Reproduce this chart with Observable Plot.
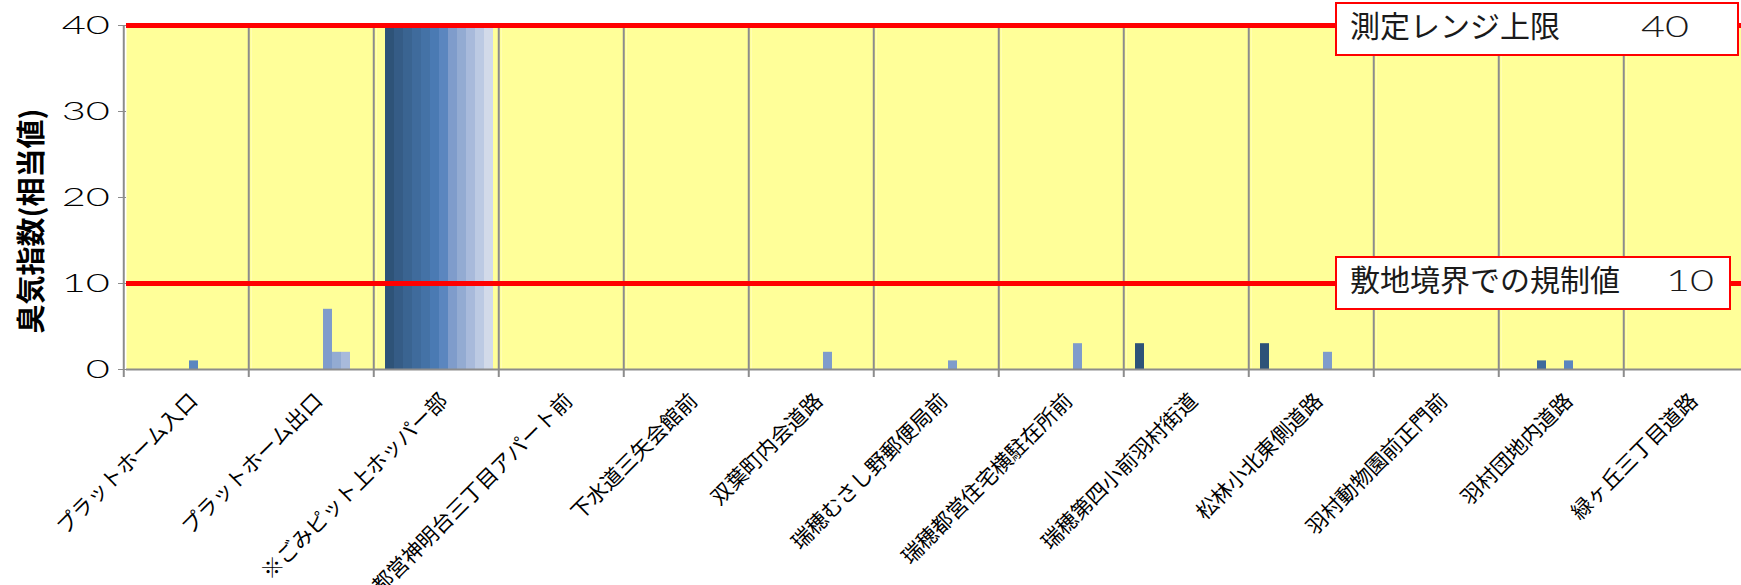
<!DOCTYPE html>
<html>
<head>
<meta charset="utf-8">
<script src="https://cdn.jsdelivr.net/npm/d3@7"></script>
<script src="https://cdn.jsdelivr.net/npm/@observablehq/plot@0.6"></script>
<style>
  html, body { margin: 0; padding: 0; background: #ffffff; overflow: hidden; }
  #chart svg { display: block; max-width: none !important; height: 585px !important; }
</style>
</head>
<body>
<div id="chart"></div>
<script>
// ---- data ----
const categories = [
  "プラットホーム入口", "プラットホーム出口", "※ごみピット上ホッパー部",
  "都営神明台三丁目アパート前", "下水道三矢会館前", "双葉町内会道路",
  "瑞穂むさし野郵便局前", "瑞穂都営住宅横駐在所前", "瑞穂第四小前羽村街道",
  "松林小北東側道路", "羽村動物園前正門前", "羽村団地内道路", "緑ヶ丘三丁目道路"
];
const seriesNames = ["4月", "5月", "6月", "7月", "8月", "9月", "10月", "11月", "12月", "1月", "2月", "3月"];
// values per series (one value per category, in category order)
const s1  = [0, 0, 40, 0, 0, 0, 0, 0, 3, 3, 0, 0, 0];
const s2  = [0, 0, 40, 0, 0, 0, 0, 0, 0, 0, 0, 0, 0];
const s3  = [0, 0, 40, 0, 0, 0, 0, 0, 0, 0, 0, 0, 0];
const s4  = [0, 0, 40, 0, 0, 0, 0, 0, 0, 0, 0, 1, 0];
const s5  = [0, 0, 40, 0, 0, 0, 0, 0, 0, 0, 0, 0, 0];
const s6  = [0, 0, 40, 0, 0, 0, 0, 0, 0, 0, 0, 0, 0];
const s7  = [1, 0, 40, 0, 0, 0, 0, 0, 0, 0, 0, 1, 0];
const s8  = [0, 7, 40, 0, 0, 2, 1, 3, 0, 2, 0, 0, 0];
const s9  = [0, 2, 40, 0, 0, 0, 0, 0, 0, 0, 0, 0, 0];
const s10 = [0, 2, 40, 0, 0, 0, 0, 0, 0, 0, 0, 0, 0];
const s11 = [0, 0, 40, 0, 0, 0, 0, 0, 0, 0, 0, 0, 0];
const s12 = [0, 0, 40, 0, 0, 0, 0, 0, 0, 0, 0, 0, 0];
const seriesValues = [s1, s2, s3, s4, s5, s6, s7, s8, s9, s10, s11, s12];
const yTicks = [0, 10, 20, 30, 40];
const limits = [10, 40];
const limitNames = ["敷地境界での規制値", "測定レンジ上限"];
const yTitle = "臭気指数(相当値)";

// ---- styles ----
const palette = ["#2e5378", "#355c86", "#3a6491", "#3f6b9c", "#4472a6", "#4a7ab3",
                 "#5b86bf", "#7f9ccb", "#93abd2", "#a8badb", "#bccae3", "#d2dae9"];
const gridColor = "#8c8c8c";
const FONT = "'Noto Sans CJK JP', 'Noto Sans', sans-serif";
const NUMFONT = "Lato, 'Noto Sans', sans-serif";

const rows = [];
seriesValues.forEach((vals, si) => {
  vals.forEach((v, ci) => {
    if (v > 0) rows.push({category: categories[ci], series: seriesNames[si], value: v});
  });
});

const W = 1753, H = 585, ML = 124, MR = 1, MT = 25, MB = 216;
const TICK = 8, TICKPAD = 10;
const padOuter = 0.75;
const facetStep = (W - ML - MR) / categories.length;
const innerStep = facetStep / (seriesNames.length + 2 * padOuter);
const gridOffset = innerStep * (1 + padOuter);

const chart = Plot.plot({
  width: W, height: H,
  marginLeft: ML, marginRight: MR, marginTop: MT, marginBottom: MB,
  style: {fontFamily: FONT, background: "#ffffff", color: "#000000", overflow: "visible"},
  fx: {domain: categories, padding: 0, label: null},
  x: {domain: seriesNames, paddingInner: 0, paddingOuter: padOuter, axis: null},
  y: {domain: [0, 40], label: null},
  color: {domain: seriesNames, range: palette},
  marks: [
    Plot.frame({fill: "#ffff99", stroke: null}),
    Plot.barY(rows, {fx: "category", x: "series", y: "value", fill: "series"}),
    Plot.ruleX(categories, {fx: d => d, x: () => seriesNames[0], y1: 40, y2: 0,
      dx: -gridOffset, insetBottom: -8, stroke: gridColor, strokeWidth: 2}),
    Plot.ruleY([0], {stroke: gridColor, strokeWidth: 2}),
    Plot.ruleY(limits, {y: d => d, stroke: "#ff0000", strokeWidth: 5}),
    Plot.axisY({ticks: yTicks, tickSize: TICK, tickPadding: TICKPAD, fontSize: 26,
      fontFamily: NUMFONT, fontWeight: 300, stroke: gridColor, label: null}),
    Plot.axisFx({anchor: "bottom", tickSize: 0, tickPadding: 28, dx: 5, tickRotate: -45,
      fontSize: 21, label: null})
  ]
});

document.getElementById("chart").appendChild(chart);

const svg = d3.select(chart);
// widen the y tick digits like the reference's wide numerals:
// stretch the tick-label group horizontally about its right-aligned anchor line
const labelRight = ML - TICK - TICKPAD;
svg.selectAll("g[aria-label='y-axis tick label']").each(function () {
  const wrapper = document.createElementNS("http://www.w3.org/2000/svg", "g");
  wrapper.setAttribute("transform", `translate(${labelRight},0) scale(1.6,1) translate(${-labelRight},0)`);
  this.parentNode.insertBefore(wrapper, this);
  wrapper.appendChild(this);
});

// ---- annotations: y title and limit boxes ----
const yScale = chart.scale("y");
const plotTop = yScale.apply(40), plotBottom = yScale.apply(0);

svg.append("text")
  .attr("transform", `translate(34,${(plotTop + plotBottom) / 2 + 24}) rotate(-90)`)
  .attr("text-anchor", "middle")
  .attr("dominant-baseline", "middle")
  .attr("font-family", FONT)
  .attr("font-weight", "bold")
  .attr("font-size", 29)
  .attr("fill", "#000")
  .text(yTitle);

const boxWidths = [394, 402];
const numberX = [1666, 1641];
limits.forEach((v, i) => {
  const cy = Math.max(yScale.apply(v), 29);
  const g = svg.append("g")
    .attr("fill", "#1a1a1a").attr("text-anchor", "start");
  g.append("rect")
    .attr("x", 1336).attr("y", cy - 26)
    .attr("width", boxWidths[i]).attr("height", 52)
    .attr("fill", "#ffffff").attr("stroke", "#ff0000").attr("stroke-width", 2);
  g.append("text")
    .attr("x", 1350).attr("y", cy)
    .attr("dominant-baseline", "middle")
    .attr("font-family", FONT).attr("font-size", 30)
    .text(limitNames[i]);
  const num = String(v);
  g.append("text")
    .attr("x", numberX[i]).attr("y", cy + 1)
    .attr("dominant-baseline", "middle")
    .attr("font-family", NUMFONT).attr("font-weight", 300).attr("font-size", 29)
    .attr("textLength", 24 * num.length).attr("lengthAdjust", "spacingAndGlyphs")
    .text(num);
});
</script>
</body>
</html>
